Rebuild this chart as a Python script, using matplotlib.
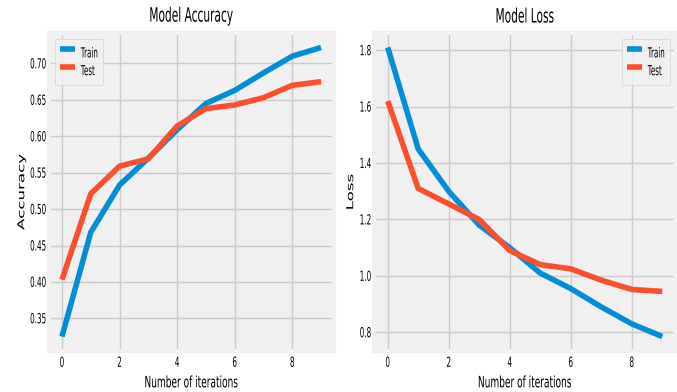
import matplotlib
matplotlib.use('Agg')
import matplotlib.pyplot as plt
from matplotlib.patheffects import AbstractPathEffect
from matplotlib.transforms import Affine2D

# training history
epochs = list(range(10))
acc_train = [0.325, 0.468, 0.533, 0.570, 0.609, 0.645, 0.663, 0.687, 0.710, 0.722]
acc_test = [0.403, 0.521, 0.559, 0.569, 0.614, 0.638, 0.643, 0.653, 0.670, 0.675]
loss_train = [1.81, 1.45, 1.30, 1.18, 1.10, 1.01, 0.955, 0.89, 0.83, 0.785]
loss_test = [1.62, 1.31, 1.255, 1.20, 1.09, 1.04, 1.025, 0.985, 0.952, 0.945]
acc_ticks = [0.35, 0.40, 0.45, 0.50, 0.55, 0.60, 0.65, 0.70]
loss_ticks = [0.8, 1.0, 1.2, 1.4, 1.6, 1.8]
x_ticks = [0, 2, 4, 6, 8]


class Stretch(AbstractPathEffect):
    # the reference text looks squashed sideways, so rescale the glyphs about their centre
    def __init__(self, sx=1.0, sy=1.0):
        super().__init__()
        self.sx = sx
        self.sy = sy

    def draw_path(self, renderer, gc, tpath, affine, rgbFace=None):
        ext = tpath.get_extents(affine)
        cx = (ext.x0 + ext.x1) / 2
        cy = (ext.y0 + ext.y1) / 2
        t = affine + Affine2D().translate(-cx, -cy).scale(self.sx, self.sy).translate(cx, cy)
        renderer.draw_path(gc, tpath, t, rgbFace)


plt.style.use('fivethirtyeight')
plt.rcParams['font.family'] = ['DejaVu Sans']

fig = plt.figure(figsize=(6.77, 3.92), dpi=100, facecolor='white')
W, H = 677, 392
ax1 = fig.add_axes([49 / W, 1 - 351 / H, (334 - 49) / W, (351 - 33) / H])
ax2 = fig.add_axes([374 / W, 1 - 351 / H, (676 - 374) / W, (351 - 33) / H])

panels = [
    (ax1, acc_train, acc_test, acc_ticks, 'Model Accuracy', 'Accuracy', 'upper left'),
    (ax2, loss_train, loss_test, loss_ticks, 'Model Loss', 'Loss', 'upper right'),
]
for ax, tr, te, yt, title, ylab, loc in panels:
    ax.plot(epochs, tr, label='Train', linewidth=4)
    ax.plot(epochs, te, label='Test', linewidth=4)
    t = ax.set_title(title, fontsize=7.65, pad=10)
    t.set_path_effects([Stretch(sy=1.85)])
    xl = ax.set_xlabel('Number of iterations', fontsize=6.5, labelpad=9)
    xl.set_path_effects([Stretch(sy=1.74)])
    yl = ax.set_ylabel(ylab, fontsize=12, labelpad=0)
    yl.set_path_effects([Stretch(sx=0.57)])
    ax.set_xticks(x_ticks)
    ax.set_yticks(yt)
    ax.tick_params(axis='both', labelsize=5.2)
    ax.tick_params(axis='y', pad=2)
    ax.tick_params(axis='x', pad=6)
    leg = ax.legend(loc=loc, fontsize=5.1, handlelength=2.1, handletextpad=0.85,
                    handleheight=3.5, labelspacing=0, borderpad=0.75, borderaxespad=0.8)
    for txt in leg.get_texts():
        txt.set_path_effects([Stretch(sy=1.95)])

fig.canvas.draw()
for ax in (ax1, ax2):
    for lab in ax.get_xticklabels() + ax.get_yticklabels():
        lab.set_path_effects([Stretch(sy=1.93)])

fig.savefig('out.png', dpi=100, facecolor='white')
